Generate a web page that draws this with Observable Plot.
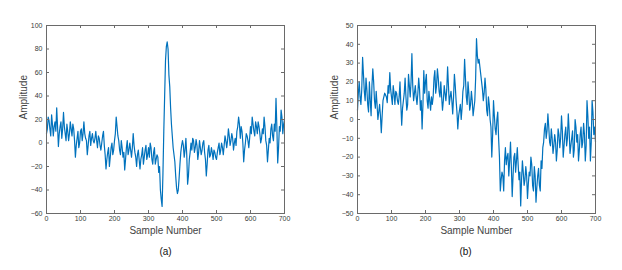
<!DOCTYPE html>
<html>
<head>
<meta charset="utf-8">
<script src="https://cdn.jsdelivr.net/npm/d3@7"></script>
<script src="https://cdn.jsdelivr.net/npm/@observablehq/plot@0.6"></script>
<style>
  html, body { margin: 0; padding: 0; background: #fff; }
  #wrap { display: flex; width: 622px; height: 270px; }
  #wrap > svg, #wrap > figure { margin: 0; }
</style>
</head>
<body>
<div id="wrap"></div>
<script>
// ---- data ----
// main readings every 5 samples (0, 5, ..., 700)
const sampleStep = 5;
const ampA = [
  8, 22, 12, 24, 6, 18, 30, -3, 14, 4,
  26, 8, 16, 2, 18, 6, 12, -12, 4, -4,
  10, 2, 18, 4, -10, 6, -2, 8, 0, 10,
  -4, 4, -6, 6, -2, -22, -8, -20, -4, -10,
  2, 22, 6, -6, 2, -12, -23, -4, -10, 0,
  -12, 8, -8, -20, -6, -22, -10, -18, -6, -14,
  -4, 0, -14, -8, -18, -10, -25, -40, -54, 10,
  70, 86, 58, 30, 6, -10, -28, -43, -30, -8,
  2, -12, 4, -35, -14, 0, 4, -8, 3, -14,
  2, -10, 0, -8, -28, -6, -12, -4, -14, -8,
  -14, -4, -10, 0, -10, 6, -4, 12, -2, 8,
  -6, 4, 10, 22, 4, 10, -16, 0, 6, -4,
  14, 22, 10, 18, 8, 14, 0, 12, 22, 2,
  -16, 4, 12, 6, 16, 38, -17, 14, 28, 8,
  20
];
// in-between readings (samples 2.5, 7.5, ..., 697.5)
const ampAMid = [
  12, 19, 6, 16, 14, 10, 14, 8, 18, 12,
  14, 2, 10, 8, 12, 16, 2, -2, 10, 0,
  12, 8, 8, 2, -2, 10, 4, 2, 4, 2,
  6, -2, 0, 10, -10, -14, -4, -12, 0, -6,
  8, 14, 2, -10, -4, -8, -14, 2, -6, -6,
  -4, -2, -12, -10, -14, -14, -4, -12, -2, -10,
  -12, -4, -18, -4, -14, -12, -20, -48, -26, 40,
  82, 80, 48, 16, -4, -16, -38, -40, -18, -2,
  -2, -6, -10, -28, -8, -6, 2, -4, -2, -8,
  -4, -6, 2, -14, -18, -2, -10, -8, -6, -12,
  -8, 0, -6, -4, -2, 2, 2, 6, 2, 4,
  0, -2, 14, 16, 14, 0, -6, 8, 2, 4,
  8, 16, 6, 14, 18, 8, 4, 8, 14, -2,
  -6, 0, 16, 2, 10, 14, -4, 10, 22, 16
];
const ampB = [
  5, 20, 8, 33, 15, 22, 8, 20, 2, 27,
  10, 15, 0, 8, -7, 10, 14, 12, 18, 25,
  12, 18, 8, 14, 8, 20, -3, 10, 22, 5,
  24, 12, 35, 10, 18, 8, 22, 5, -5, 26,
  20, 10, 15, 5, 8, 22, 14, 27, 15, 20,
  5, 18, 10, 28, 8, 15, 3, 24, 10, -5,
  5, 0, 15, 32, 12, 20, 5, 15, 2, 10,
  43, 30, 28, 20, 10, 22, 5, 12, 0, -20,
  10, -5, 0, -10, -38, -28, -38, -15, -20, -30,
  -12, -41, -20, -28, -15, -32, -46, -22, -35, -25,
  -42, -28, -20, -35, -25, -44, -30, -35, -22, -15,
  -5, -10, 3, -12, -5, -18, -8, -22, -5, -15,
  2, -20, -8, -14, 3, -18, -10, -20, 0, -12,
  -22, -8, -15, -2, -22, 10, -10, -22, 10, -8,
  -12
];
const ampBMid = [
  14, 12, 16, 24, 10, 16, 4, 10, 18, 20,
  6, 8, 4, 2, 2, 12, 13, 9, 14, 16,
  8, 14, 15, 10, 12, 8, 6, 14, 12, 8,
  18, 20, 18, 14, 12, 14, 16, 10, 8, 14,
  24, 6, 10, 12, 12, 26, 18, 22, 12, 12,
  10, 14, 16, 18, 12, 10, 12, 18, 4, 2,
  8, 6, 18, 22, 8, 14, 8, 10, 6, 22,
  34, 32, 24, 16, 14, 16, 2, 8, -4, -8,
  2, -8, 4, -20, -32, -30, -22, -24, -18, -22,
  -25, -30, -18, -22, -24, -28, -32, -28, -32, -30,
  -34, -30, -24, -38, -30, -36, -26, -38, -26, -12,
  -2, -6, -4, -14, -10, -14, -12, -16, -8, -10,
  -6, -14, -4, -10, -6, -14, -6, -16, -4, -8,
  -16, -4, -12, -8, -14, 2, -4, -12, 4, -4
];
const xTicks = [0, 100, 200, 300, 400, 500, 600, 700];
const yTicksA = [-60, -40, -20, 0, 20, 40, 60, 80, 100];
const yTicksB = [-50, -40, -30, -20, -10, 0, 10, 20, 30, 40, 50];
const panels = [
  {amp: ampA, mid: ampAMid, yDomain: [-60, 100], yTicks: yTicksA, caption: "(a)", capDx: 0},
  {amp: ampB, mid: ampBMid, yDomain: [-50, 50], yTicks: yTicksB, caption: "(b)", capDx: -11}
];

const W = 311, H = 270, mL = 46, mR = 27, mT = 25, mB = 57;
const innerW = W - mL - mR, innerH = H - mT - mB, tick = 3;
const axisColor = "#6a6a6a";
const textColor = "#3a3a3a";

for (const p of panels) {
  const data = p.amp.map((v, i) => ({sample: i * sampleStep, amp: v}))
    .concat(p.mid.map((v, i) => ({sample: i * sampleStep + sampleStep / 2, amp: v})))
    .sort((a, b) => a.sample - b.sample);
  const chart = Plot.plot({
    width: W, height: H,
    marginLeft: mL, marginRight: mR, marginTop: mT, marginBottom: mB,
    style: {fontFamily: "'Liberation Sans', Arial, sans-serif", fontSize: "7px", color: textColor, background: "#fff"},
    x: {domain: [0, 700]},
    y: {domain: p.yDomain},
    marks: [
      Plot.line(data, {x: "sample", y: "amp", stroke: "#0072BD", strokeWidth: 1.2}),
      Plot.frame({stroke: axisColor, strokeWidth: 1}),
      Plot.tickX(xTicks, {x: d => d, insetTop: innerH - tick, stroke: axisColor}),
      Plot.tickX(xTicks, {x: d => d, insetBottom: innerH - tick, stroke: axisColor}),
      Plot.tickY(p.yTicks, {y: d => d, insetRight: innerW - tick, stroke: axisColor}),
      Plot.tickY(p.yTicks, {y: d => d, insetLeft: innerW - tick, stroke: axisColor}),
      Plot.axisX(xTicks, {tickSize: 0, tickPadding: 3, label: null, fontSize: 7, fill: textColor}),
      Plot.axisY(p.yTicks, {tickSize: 0, tickPadding: 4, label: null, fontSize: 7, fill: textColor}),
      Plot.text(["Sample Number"], {text: d => d, frameAnchor: "bottom", dy: 20, fontSize: 10, fill: "#444"}),
      Plot.text(["Amplitude"], {text: d => d, frameAnchor: "left", rotate: -90, dx: -23, fontSize: 10, fill: "#444"}),
      Plot.text([p.caption], {text: d => d, frameAnchor: "bottom", dy: 41, dx: p.capDx, fontSize: 10, fill: "#111"})
    ]
  });
  document.getElementById("wrap").appendChild(chart);
}
</script>
</body>
</html>
